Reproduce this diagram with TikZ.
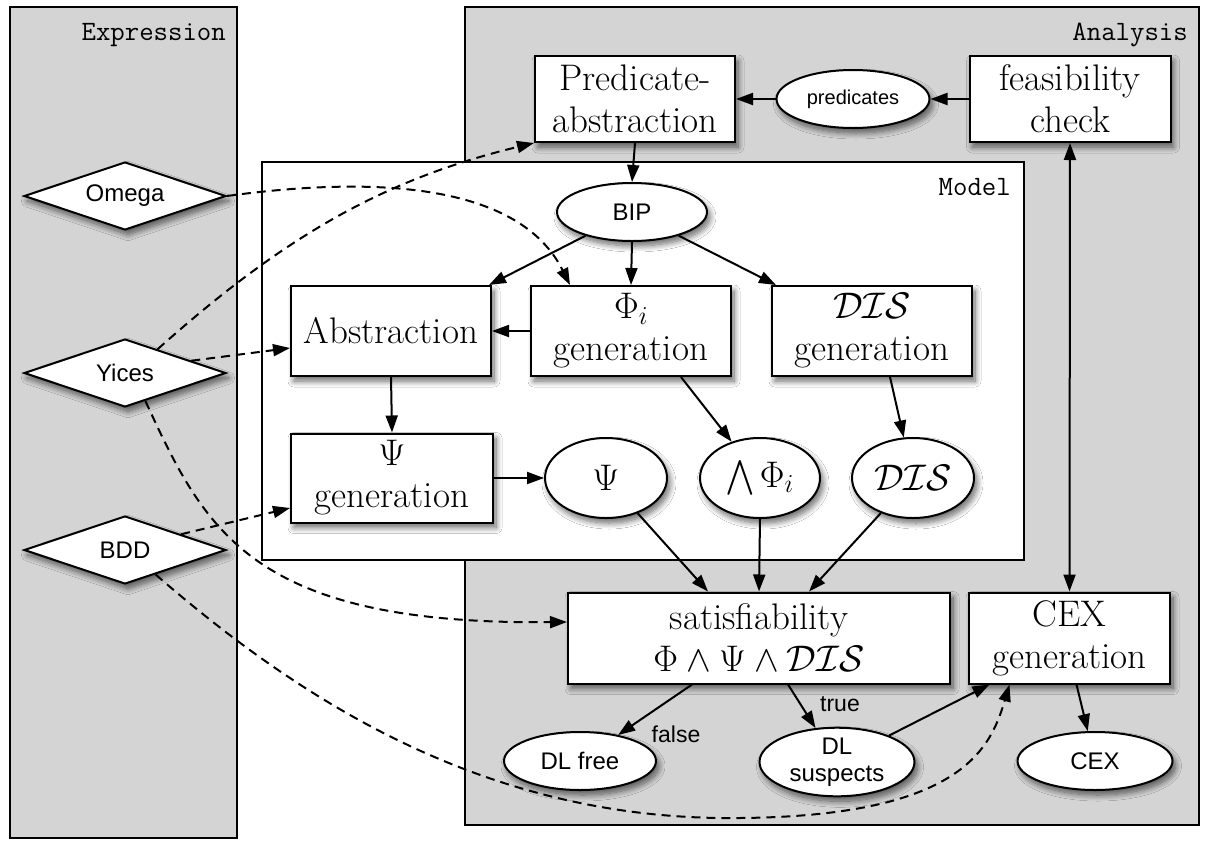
\RequirePackage{fix-cm}
\documentclass[tikz,border=0pt]{standalone}
\usepackage{exscale}
\usepackage{fontspec}
\setsansfont{Liberation Sans}
\usetikzlibrary{shapes.geometric,arrows.meta,shadows.blur,calc}
\definecolor{panelgray}{RGB}{212,212,212}
\tikzset{
  lw/.style={line width=2pt},
  panel/.style={draw=black, lw, fill=panelgray},
  shad/.style={blur shadow={shadow xshift=3pt, shadow yshift=-5pt, shadow blur steps=10, shadow opacity=60, shadow blur radius=6pt}},
  box/.style={draw, lw, fill=white, rectangle, inner sep=0pt, align=center, font=\fontsize{37}{42}\selectfont, shad},
  ell/.style={draw, lw, fill=white, ellipse, inner sep=0pt, align=center, font=\sffamily\fontsize{24}{27}\selectfont, shad},
  mell/.style={ell, font=\fontsize{37}{42}\selectfont},
  dia/.style={draw, lw, fill=white, diamond, aspect=3, inner sep=0pt, minimum width=202pt, minimum height=68pt, font=\sffamily\fontsize{24}{27}\selectfont, shad},
  tip/.tip={Triangle[length=17pt,width=12pt]},
  arr/.style={lw, -tip},
  darr/.style={arr, dash pattern=on 9pt off 6pt},
  lbl/.style={font=\sffamily\fontsize{23}{25}\selectfont, inner sep=0pt},
  ptitle/.style={font=\ttfamily\fontsize{28}{28}\selectfont, inner sep=0pt, anchor=base east},
}
\begin{document}
\begin{tikzpicture}[x=1pt,y=-1pt]
\useasboundingbox (0,0) rectangle (1205,844);
% panels
\draw[panel] (10,7) rectangle (237,838);
\draw[panel] (465,7) rectangle (1199,825);
\draw[lw, fill=white] (262,162) rectangle (1024,560);
\node[ptitle] (texp) at (226,40) {Expression};
\node[ptitle] (tana) at (1188,40) {Analysis};
\node[ptitle] (tmod) at (1011,195) {Model};
% nodes
\node[box, minimum width=200pt, minimum height=86pt] (pa) at (635,99) {Predicate-\\abstraction};
\node[ell, minimum width=153pt, minimum height=58pt, font=\sffamily\fontsize{20}{22}\selectfont] (pred) at (853,99) {predicates};
\node[box, minimum width=201pt, minimum height=86pt] (fc) at (1070,99) {feasibility\\check};
\node[ell, minimum width=150pt, minimum height=58pt] (bip) at (632,212) {BIP};
\node[box, minimum width=200pt, minimum height=90pt] (abs) at (391,331) {Abstraction};
\node[box, minimum width=200pt, minimum height=90pt] (phi) at (631,331) {$\Phi_i$\\generation};
\node[box, minimum width=200pt, minimum height=90pt] (disg) at (872,331) {$\mathcal{DIS}$\\generation};
\node[box, minimum width=202pt, minimum height=89pt] (psig) at (392,478) {$\Psi$\\generation};
\node[mell, minimum width=122pt, minimum height=80pt] (psi) at (606,478) {$\Psi$};
\node[mell, minimum width=120pt, minimum height=80pt] (andphi) at (760,478) {$\displaystyle\bigwedge\Phi_i$};
\node[mell, minimum width=122pt, minimum height=80pt] (dis) at (913,478) {$\mathcal{DIS}$};
\node[box, minimum width=382pt, minimum height=91pt] (sat) at (759,638) {satisfiability\\$\Phi\wedge\Psi\wedge\mathcal{DIS}$};
\node[box, minimum width=201pt, minimum height=91pt] (cexg) at (1069.5,638) {CEX\\generation};
\node[ell, minimum width=152pt, minimum height=58pt] (dlfree) at (580,761) {DL free};
\node[ell, minimum width=155pt, minimum height=61pt] (dlsus) at (837,762) {DL\\suspects};
\node[ell, minimum width=155pt, minimum height=58pt] (cex) at (1095,761) {CEX};
\node[dia] (omega) at (125,196) {Omega};
\node[dia] (yices) at (125,373) {Yices};
\node[dia] (bdd) at (125,550) {BDD};
% solid connectors
\draw[arr] (pa.south) -- (bip.north);
\draw[arr] (pred.west) -- (pa.east);
\draw[arr] (fc.west) -- (pred.east);
\draw[lw, tip-tip] (fc.south) -- (cexg.north);
\draw[arr] (bip) -- ([xshift=-3pt]abs.north east);
\draw[arr] (bip.south) -- (phi.north);
\draw[arr] (bip) -- ([xshift=5pt]disg.north west);
\draw[arr] (phi.west) -- (abs.east);
\draw[arr] (abs.south) -- (psig.north);
\draw[arr] ([xshift=50pt]phi.south) -- (andphi);
\draw[arr] ([xshift=18pt]disg.south) -- (dis);
\draw[arr] (psig.east) -- (psi.west);
\draw[arr] (psi) -- ([xshift=-51pt]sat.north);
\draw[arr] (andphi.south) -- (sat.north);
\draw[arr] (dis) -- ([xshift=50pt]sat.north);
\draw[arr] ([xshift=-67pt]sat.south) -- (dlfree);
\node[lbl] (lfalse) at (676,734) {false};
\draw[arr] ([xshift=29pt]sat.south) -- (dlsus);
\node[lbl] (ltrue) at (840,704) {true};
\draw[arr] (dlsus) -- ([xshift=-80pt]cexg.south);
\draw[arr] ([xshift=7pt]cexg.south) -- (cex);
% dashed connectors
\draw[darr] (omega.east) .. controls (380,175) and (520,185) .. ([xshift=-61pt]phi.north);
\draw[darr] ($(yices.north)!0.32!(yices.east)$) .. controls (280,240) and (380,180) .. (pa.south west);
\draw[darr] ($(yices.north)!0.65!(yices.east)$) -- ([yshift=-17pt]abs.west);
\draw[darr] ($(yices.south)!0.2!(yices.east)$) .. controls (205,530) and (250,625) .. ([yshift=16pt]sat.west);
\draw[darr] ($(bdd.north)!0.55!(bdd.east)$) -- ([yshift=-30pt]psig.west);
\draw[darr] ($(bdd.south)!0.3!(bdd.east)$) .. controls (300,700) and (480,815) .. (720,818) .. controls (960,820) and (990,750) .. ([xshift=-60pt]cexg.south);
\end{tikzpicture}
\end{document}
